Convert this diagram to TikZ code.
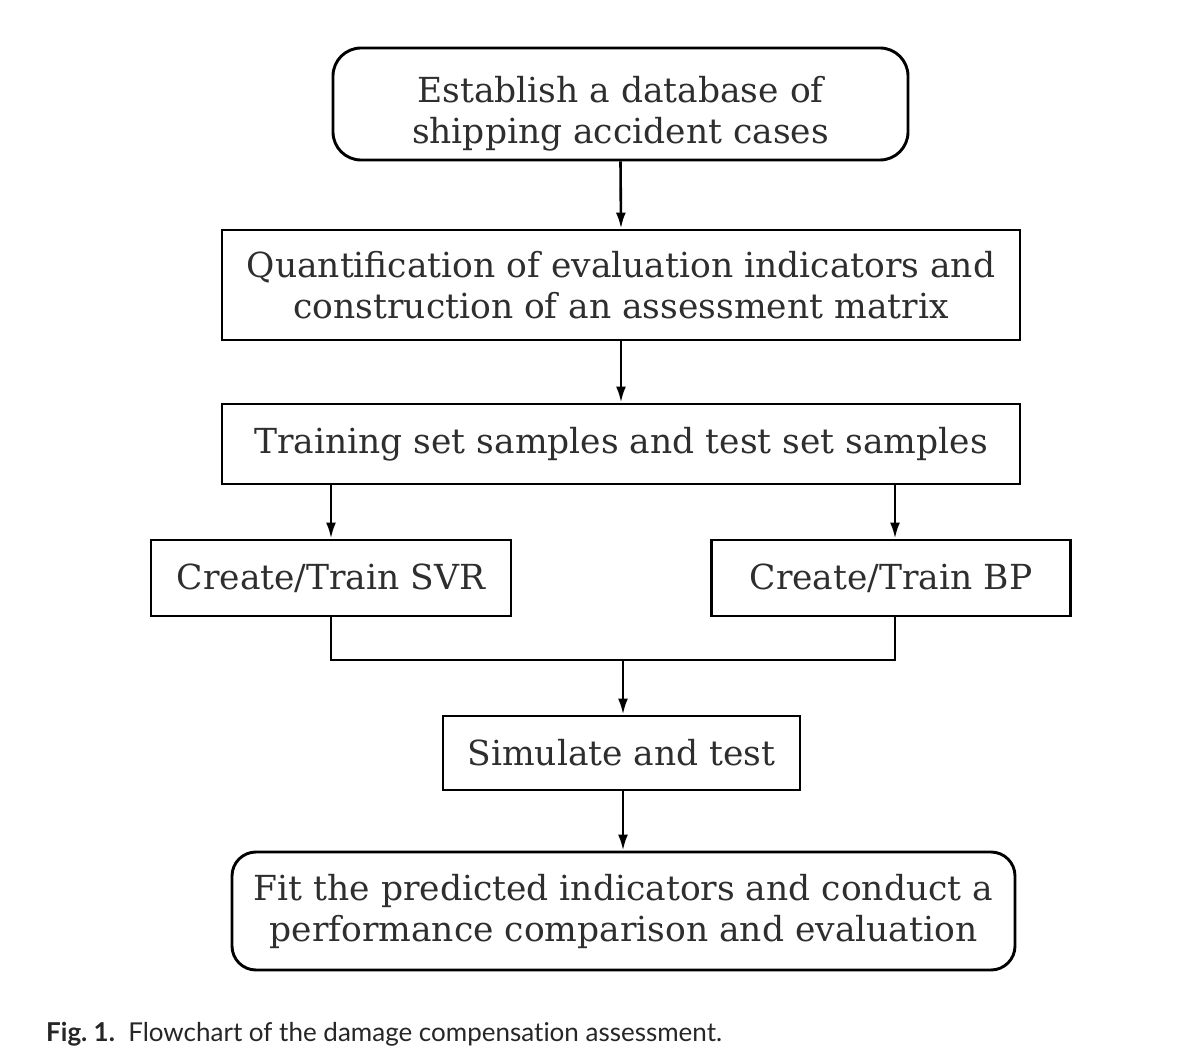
\documentclass[tikz,border=0pt]{standalone}
\usepackage{fontspec}
\setmainfont{DejaVu Serif}
\newfontfamily\capfont[Ligatures=NoCommon]{Lato}
\usetikzlibrary{arrows.meta}
\begin{document}
\begin{tikzpicture}[x=1pt,y=-1pt,
  box/.style={draw, line width=2.9pt, align=center, inner sep=0pt,
    font=\fontsize{34.5}{41}\selectfont, text=black!82},
  rbox/.style={box, rounded corners=28pt},
  conn/.style={line width=2.6pt},
  arr/.style={conn, -{Latex[length=16pt,width=10pt]}}]
\useasboundingbox (0,0) rectangle (1200,1059);
\node[rbox, minimum width=575pt, minimum height=112pt] (b1) at (620.5,104) {\rule{0pt}{46pt}Establish a database of\\shipping accident cases};
\node[box, minimum width=798pt, minimum height=110pt] (b2) at (621,285) {Quantification of evaluation indicators and\\construction of an assessment matrix};
\node[box, minimum width=798pt, minimum height=80pt] (b3) at (621,444) {Training set samples and test set samples};
\node[box, minimum width=360pt, minimum height=76pt] (svr) at (331,578) {Create/Train SVR};
\node[box, minimum width=359pt, minimum height=76pt] (bp) at (891,578) {Create/Train BP};
\node[box, minimum width=357pt, minimum height=74pt] (sim) at (621.5,753) {Simulate and test};
\node[rbox, minimum width=783pt, minimum height=118pt, rounded corners=24pt] (b7) at (623.5,911) {Fit the predicted indicators and conduct a\\performance comparison and evaluation};
\coordinate (j) at (623,660);
\coordinate (bpx) at (895,660);
\draw[arr] (b1.south) -- (b2.north);
\draw[arr] (b2.south) -- (b3.north);
\draw[arr] (b3.south -| svr.north) -- (svr.north);
\draw[arr] (b3.south -| bpx) -- (bp.north -| bpx);
\draw[conn] (svr.south) |- (j) -- (bpx) -- (bp.south -| bpx);
\draw[arr] (j) -- (j |- sim.north);
\draw[arr] (sim.south -| j) -- (b7.north -| j);
\node[anchor=base west, inner sep=0pt, font=\capfont\fontsize{26}{30}\selectfont, text=black!85] (cap) at (46,1041) {\textbf{Fig.\ 1.}\ \ Flowchart of the damage compensation assessment.};
\end{tikzpicture}
\end{document}
